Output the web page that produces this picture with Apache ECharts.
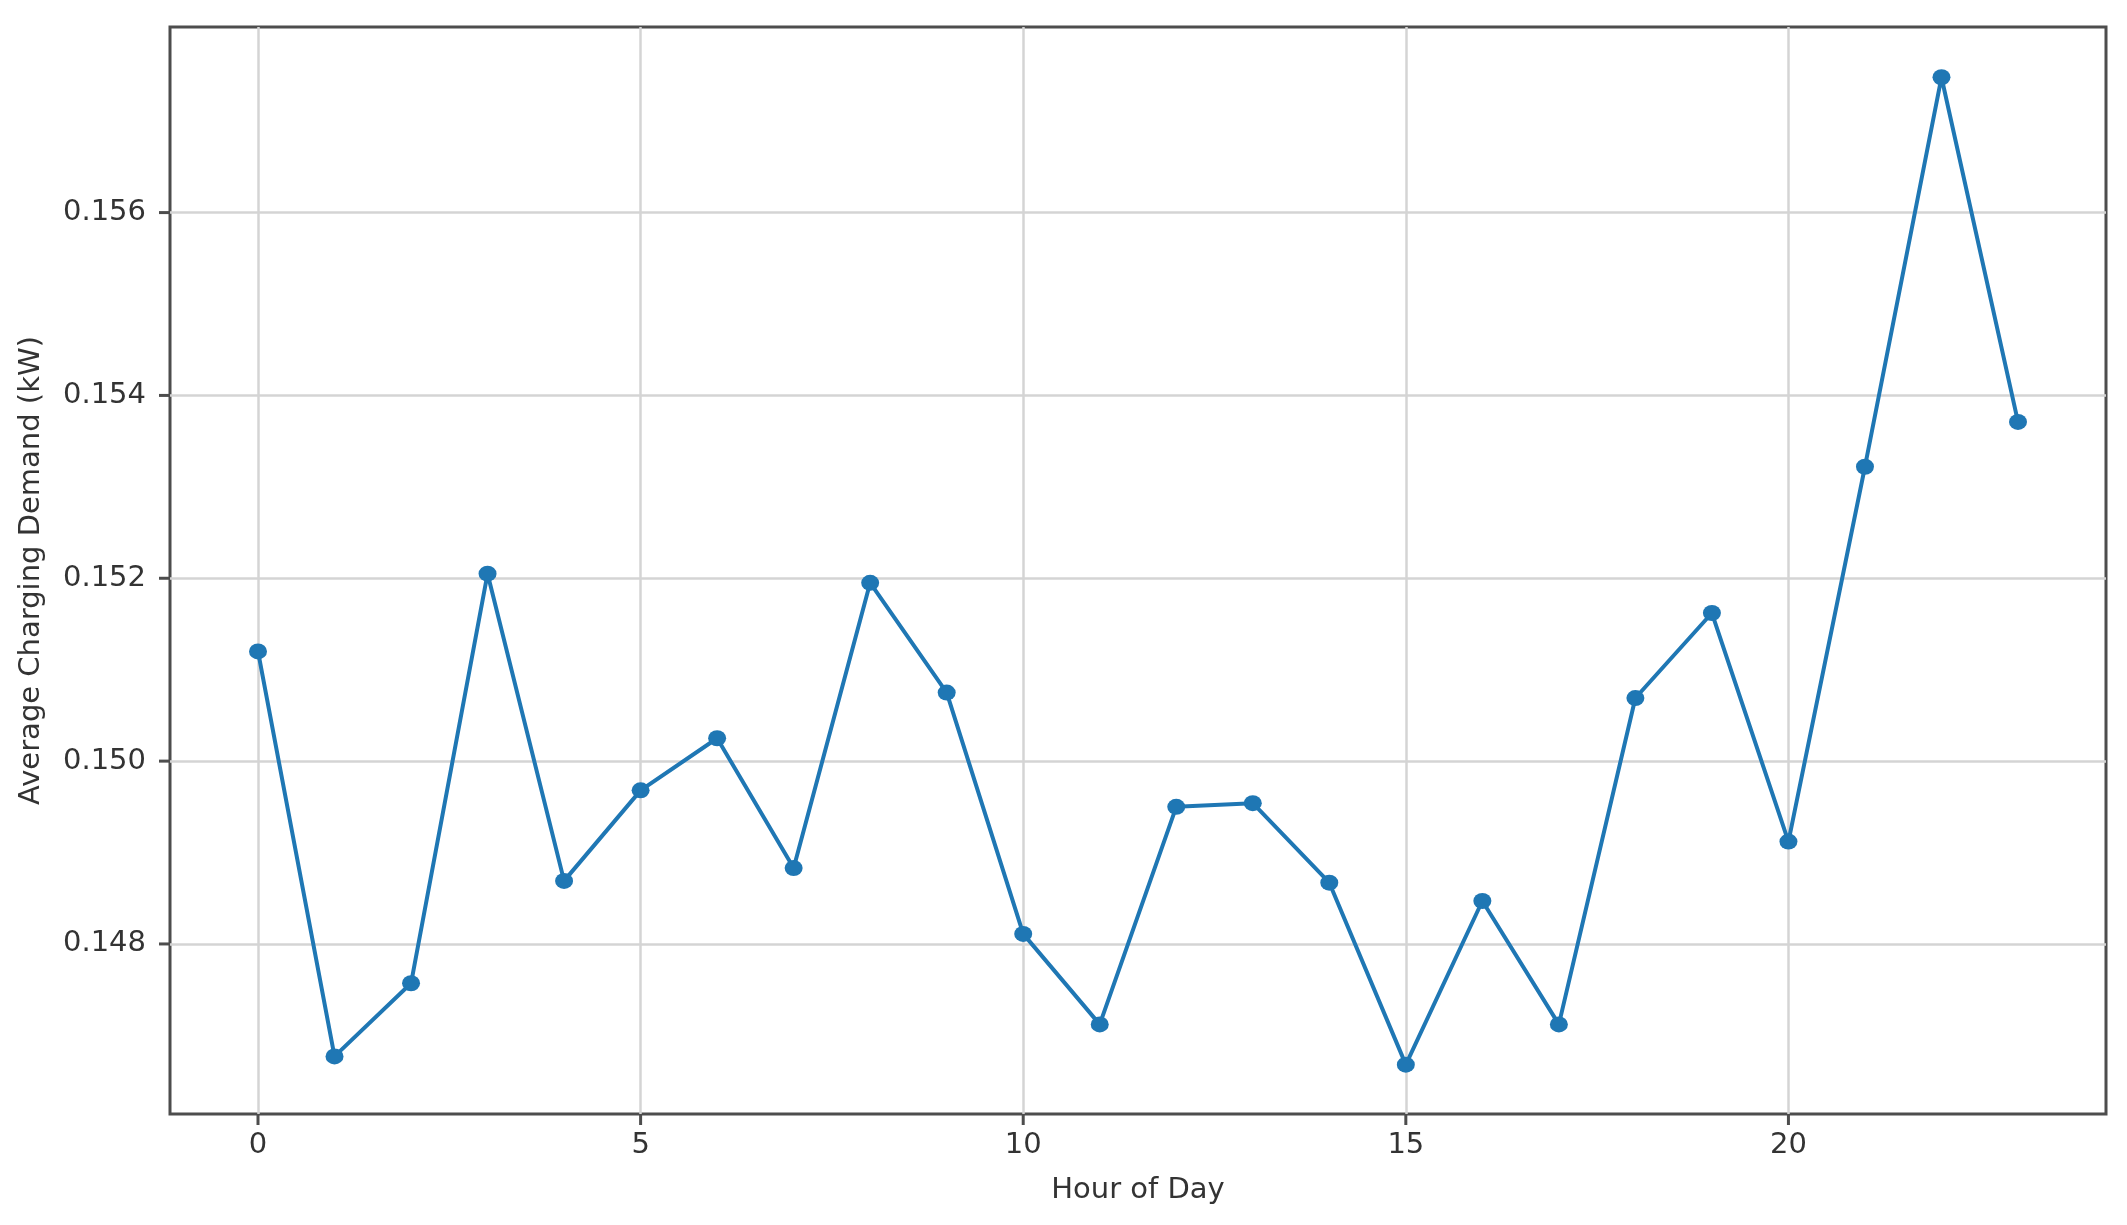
<!DOCTYPE html>
<html>
<head>
<meta charset="utf-8">
<script src="https://cdn.jsdelivr.net/npm/echarts@6/dist/echarts.min.js"></script>
<style>
  html, body { margin: 0; padding: 0; background: #fff; }
  #main { width: 2127px; height: 1225px; }
</style>
</head>
<body>
<div id="main"></div>
<script>
// hours 0..23
var hours = [0, 1, 2, 3, 4, 5, 6, 7, 8, 9, 10, 11, 12, 13, 14, 15, 16, 17, 18, 19, 20, 21, 22, 23];
var demand = [
  0.15120, 0.14677, 0.14757, 0.15205, 0.14869, 0.14968,
  0.15025, 0.14883, 0.15195, 0.15075, 0.14811, 0.14712,
  0.14950, 0.14954, 0.14867, 0.14668, 0.14847, 0.14712,
  0.15069, 0.15162, 0.14912, 0.15322, 0.15748, 0.15371
];
var xTicks = [0, 5, 10, 15, 20];
var yTicks = [0.148, 0.150, 0.152, 0.154, 0.156];

var xMin = -1.15, xMax = 24.15;
var yMin = 0.14614, yMax = 0.15803;

var chart = echarts.init(document.getElementById('main'));

var textColor = '#333';
var spineColor = '#4d4d4d';
var gridColor = '#d4d4d4';
var font = 'DejaVu Sans';

var option = {
  animation: false,
  grid: {
    left: 170,
    right: 21,
    top: 27,
    bottom: 111,
    show: true,
    borderColor: spineColor,
    borderWidth: 3
  },
  xAxis: {
    type: 'value',
    min: xMin,
    max: xMax,
    name: 'Hour of Day',
    nameLocation: 'middle',
    nameGap: 62,
    nameTextStyle: { color: textColor, fontSize: 29, fontFamily: font },
    axisLine: { show: false, onZero: false },
    axisTick: { show: false, customValues: xTicks },
    axisLabel: {
      customValues: xTicks, margin: 0,
      // tick mark drawn as a small box above the number
      formatter: function (v) { return '{t| }\n{v|' + v + '}'; },
      rich: {
        t: { width: 3, height: 11, lineHeight: 11, fontSize: 2, backgroundColor: spineColor },
        v: { color: textColor, fontSize: 29, fontFamily: font, lineHeight: 40 }
      }
    },
    splitLine: { show: true, lineStyle: { color: gridColor, width: 2.5 } }
  },
  yAxis: {
    type: 'value',
    min: yMin,
    max: yMax,
    name: 'Average Charging Demand (kW)',
    nameLocation: 'middle',
    nameGap: 124,
    nameTextStyle: { color: textColor, fontSize: 29, fontFamily: font },
    axisLine: { show: false, onZero: false },
    axisTick: { show: false, customValues: yTicks },
    axisLabel: {
      customValues: yTicks, margin: 0,
      // number, gap, then tick mark touching the frame
      formatter: function (v) { return '{v|' + v.toFixed(3) + '}{g| }{t| }'; },
      rich: {
        v: { color: textColor, fontSize: 29, fontFamily: font },
        g: { width: 13, fontSize: 2 },
        t: { width: 11, height: 3, fontSize: 2, backgroundColor: spineColor }
      }
    },
    splitLine: { show: true, lineStyle: { color: gridColor, width: 2.5 } }
  },
  series: [{
    type: 'line',
    data: hours.map(function (h, i) { return [h, demand[i]]; }),
    symbol: 'circle',
    symbolSize: [18, 16],
    showAllSymbol: true,
    lineStyle: { color: '#1f77b4', width: 4 },
    itemStyle: { color: '#1f77b4', borderWidth: 0 },
    z: 3
  }]
};

chart.setOption(option);
</script>
</body>
</html>
